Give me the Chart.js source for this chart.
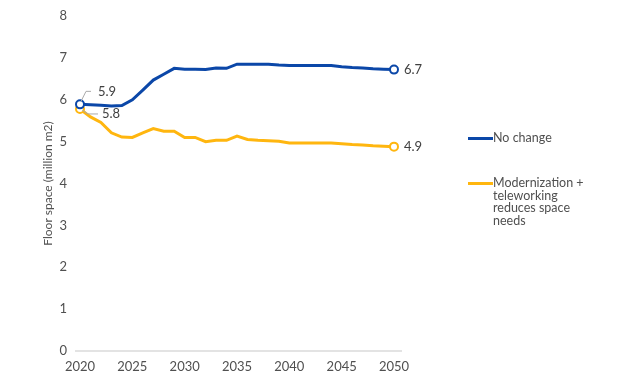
<!DOCTYPE html>
<html>
<head>
<meta charset="utf-8">
<script src="https://cdn.jsdelivr.net/npm/chart.js@4/dist/chart.umd.min.js"></script>
<style>
  body { margin: 0; background: #fff; font-family: Lato, sans-serif; }
  #wrap { position: relative; width: 624px; height: 386px; }
  .leg { position: absolute; left: 468px; display: flex; align-items: flex-start; color: #505050; font-size: 12.5px; line-height: 12.7px; }
  .leg .sw { width: 25px; height: 3px; margin-top: 5px; flex: none; }
  .leg .tx { width: 100px; }
</style>
</head>
<body>
<div id="wrap">
  <canvas id="floorChart" width="624" height="386"></canvas>
  <div id="legend"></div>
</div>
<script>
const years = [2020, 2021, 2022, 2023, 2024, 2025, 2026, 2027, 2028, 2029, 2030,
  2031, 2032, 2033, 2034, 2035, 2036, 2037, 2038, 2039, 2040,
  2041, 2042, 2043, 2044, 2045, 2046, 2047, 2048, 2049, 2050];
const noChange = [5.89, 5.88, 5.87, 5.85, 5.86, 6.0, 6.23, 6.47, 6.61, 6.75, 6.73,
  6.73, 6.72, 6.76, 6.75, 6.85, 6.85, 6.85, 6.85, 6.83, 6.82,
  6.82, 6.82, 6.82, 6.82, 6.79, 6.77, 6.76, 6.74, 6.73, 6.72];
const modernization = [5.78, 5.59, 5.46, 5.21, 5.11, 5.10, 5.21, 5.31, 5.25, 5.25, 5.10,
  5.10, 5.0, 5.03, 5.03, 5.13, 5.05, 5.03, 5.02, 5.01, 4.97,
  4.97, 4.97, 4.97, 4.97, 4.95, 4.93, 4.92, 4.90, 4.89, 4.88];
const seriesNames = ['No change', 'Modernization + teleworking reduces space needs'];
const seriesColors = ['#0b47a8', '#ffb60f'];
const yTicks = [0, 1, 2, 3, 4, 5, 6, 7, 8];

const textColor = '#505050';

function endPoints(ctx) {
  const last = ctx.dataset.data.length - 1;
  return (ctx.dataIndex === 0 || ctx.dataIndex === last) ? 4 : 0;
}

const seriesValues = [noChange, modernization];
const datasets = seriesValues.map((vals, i) => ({
  label: seriesNames[i],
  data: years.map((y, k) => ({ x: y, y: vals[k] })),
  borderColor: seriesColors[i],
  backgroundColor: '#fff',
  borderWidth: 3,
  tension: 0,
  clip: false,
  pointRadius: endPoints,
  pointBorderWidth: 2,
  pointBackgroundColor: '#fff',
  pointBorderColor: seriesColors[i]
}));

// value labels at the first and last point, with small leader lines at the start
const valueLabels = {
  id: 'valueLabels',
  afterDatasetsDraw(chart) {
    const c = chart.ctx;
    c.save();
    c.font = '13px Lato, sans-serif';
    c.fillStyle = '#404040';
    c.textBaseline = 'middle';
    chart.data.datasets.forEach((ds, i) => {
      const pts = chart.getDatasetMeta(i).data;
      const first = pts[0], last = pts[pts.length - 1];
      c.textAlign = 'left';
      c.fillText(ds.data[ds.data.length - 1].y.toFixed(1), last.x + 10, last.y);

      // leader for the start value: first goes up, second goes down
      const up = i === 0;
      const ex = first.x + (up ? 6 : 8);
      const ey = first.y + (up ? -13 : 5);
      c.strokeStyle = '#aaa';
      c.lineWidth = 1;
      c.beginPath();
      c.moveTo(first.x + (up ? 1 : 2), first.y + (up ? -3 : 1));
      c.lineTo(ex, ey);
      c.lineTo(ex + (up ? 5 : 10), ey);
      c.stroke();
      c.fillText(ds.data[0].y.toFixed(1), ex + (up ? 12 : 14), ey);
    });
    c.restore();
  }
};

// light baseline at zero, running a bit past the plot on both sides
const zeroLine = {
  id: 'zeroLine',
  beforeDatasetsDraw(chart) {
    const c = chart.ctx, a = chart.chartArea;
    const y0 = chart.scales.y.getPixelForValue(0);
    c.save();
    c.strokeStyle = '#e3e3e3';
    c.lineWidth = 2;
    c.beginPath();
    c.moveTo(a.left - 5, y0);
    c.lineTo(a.right + 8, y0);
    c.stroke();
    c.restore();
  }
};

new Chart(document.getElementById('floorChart').getContext('2d'), {
  type: 'line',
  data: { datasets: datasets },
  options: {
    responsive: false,
    animation: false,
    layout: { autoPadding: false, padding: { top: 16, right: 230, bottom: 11.4, left: 41 } },
    plugins: { legend: { display: false }, tooltip: { enabled: false } },
    scales: {
      x: {
        type: 'linear',
        min: years[0],
        max: years[years.length - 1],
        grid: { display: false },
        border: { display: false },
        ticks: {
          stepSize: 5,
          color: textColor,
          font: { family: 'Lato, sans-serif', size: 13 },
          padding: 0,
          callback: v => String(v)
        }
      },
      y: {
        min: yTicks[0],
        max: yTicks[yTicks.length - 1],
        // invisible tick marks push the labels away from the plot
        grid: { display: true, drawOnChartArea: false, drawTicks: true, tickLength: 12, color: 'rgba(0,0,0,0)' },
        border: { display: false },
        afterBuildTicks: s => { s.ticks = yTicks.map(v => ({ value: v })); },
        afterFit: s => { s.width = 39; },
        ticks: {
          color: textColor,
          font: { family: 'Lato, sans-serif', size: 13 },
          padding: 1
        },
        title: {
          display: true,
          text: 'Floor space (million m2)',
          color: textColor,
          font: { family: 'Lato, sans-serif', size: 12 },
          padding: 0
        }
      }
    }
  },
  plugins: [zeroLine, valueLabels]
});

// legend on the right, built from the series names and colours
const legendTops = [132, 177];
document.getElementById('legend').innerHTML = seriesNames.map((n, i) =>
  '<div class="leg" style="top:' + legendTops[i] + 'px"><div class="sw" style="background:' +
  seriesColors[i] + '"></div><div class="tx">' + n + '</div></div>').join('');
</script>
</body>
</html>
